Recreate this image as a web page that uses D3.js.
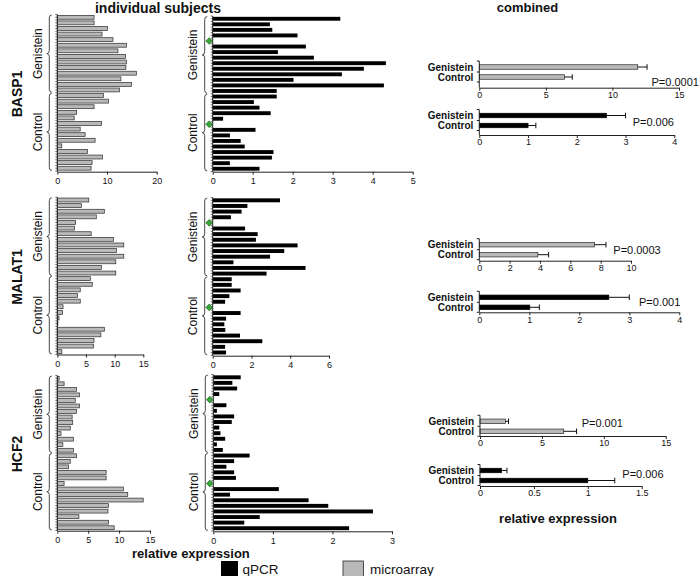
<!DOCTYPE html>
<html><head><meta charset="utf-8">
<script src="https://cdn.jsdelivr.net/npm/d3@7"></script>
<style>body{margin:0;background:#fff} svg{display:block;font-family:"Liberation Sans",Arial,sans-serif}</style>
</head><body><svg id="c" width="700" height="576"></svg>
<script>
// ---------- data ----------
const genes = ["BASP1", "MALAT1", "HCF2"];
const groups = ["Genistein", "Control"];
const groupSizes = [14, 14];

const basp1Micro = [7.4, 7.4, 10.1, 9.0, 11.2, 13.9, 12.2, 13.7, 13.9, 13.8, 15.9, 12.8, 14.9, 12.5,
                    9.3, 10.3, 7.4, 3.9, 3.4, 8.9, 4.6, 5.6, 7.6, 0.9, 6.1, 9.1, 7.0, 6.8];
const basp1QPCR = [3.19, 1.43, 1.49, 2.12, null, 2.33, 1.63, 2.53, 4.33, 3.78, 3.23, 2.02, 4.28, 1.6,
                   1.6, 1.03, 1.17, 1.45, 0.26, null, 1.07, 0.43, 0.7, 0.8, 1.52, 1.48, 0.43, 1.17];
const malat1Micro = [5.5, 4.2, 8.2, 6.8, 3.2, 3.0, 5.9, 9.8, 11.6, 10.3, 11.6, 10.2, 7.7, 10.2,
                     5.8, 6.1, 4.0, 3.5, 4.0, 1.0, 0.9, 0.3, 0.1, 8.2, 7.6, 6.4, 6.3, 0.8];
const malat1QPCR = [3.47, 1.79, 1.49, 0.94, null, 1.67, 2.32, 2.23, 4.38, 3.69, 2.96, 1.07, 4.79, 2.78,
                    0.98, 0.98, 1.44, 0.86, 0.64, null, 1.44, 0.69, 0.6, 0.65, 1.41, 2.56, 0.64, 0.69];
const hcf2Micro = [0.3, 1.1, 3.1, 3.6, 2.9, 3.6, 3.1, 2.4, 2.5, 2.1, 0.6, 2.6, 0.9, 2.6,
                   3.1, 2.1, 1.8, 7.9, 7.9, 1.1, 10.7, 11.4, 13.9, 8.3, 8.2, 3.5, 8.3, 9.2];
const hcf2QPCR = [0.46, 0.32, 0.40, 0.10, null, 0.22, 0.06, 0.35, 0.31, 0.10, 0.12, 0.20, 0.06, 0.16,
                  0.61, 0.35, 0.22, 0.35, 0.38, null, 1.10, 0.28, 1.60, 1.93, 2.68, 0.78, 0.52, 2.28];

const basp1MicroTicks = [0, 10, 20];
const malat1MicroTicks = [0, 5, 10, 15];
const hcf2MicroTicks = [0, 5, 10, 15];
const basp1QPCRTicks = [0, 1, 2, 3, 4, 5];
const malat1QPCRTicks = [0, 2, 4, 6];
const hcf2QPCRTicks = [0, 1, 2, 3];

// combined (Genistein, Control)
const basp1CombMicro = [11.9, 6.4],   basp1CombMicroErr = [0.7, 0.58];
const basp1CombQPCR = [2.61, 1.0],    basp1CombQPCRErr = [0.39, 0.16];
const malat1CombMicro = [7.6, 3.86],  malat1CombMicroErr = [0.75, 0.71];
const malat1CombQPCR = [2.59, 1.01],  malat1CombQPCRErr = [0.41, 0.19];
const hcf2CombMicro = [2.05, 6.76],   hcf2CombMicroErr = [0.25, 1.04];
const hcf2CombQPCR = [0.2, 1.0],      hcf2CombQPCRErr = [0.05, 0.25];

const basp1CombMicroTicks = [0, 5, 10, 15];
const basp1CombQPCRTicks = [0, 1, 2, 3, 4];
const malat1CombMicroTicks = [0, 2, 4, 6, 8, 10];
const malat1CombQPCRTicks = [0, 1, 2, 3, 4];
const hcf2CombMicroTicks = [0, 5, 10, 15];
const hcf2CombQPCRTicks = [0, 0.5, 1, 1.5];

const pValues = ["P=0.0001", "P=0.006", "P=0.0003", "P=0.001", "P=0.001", "P=0.006"];
const legendLabels = ["qPCR", "microarray"];

// ---------- styles ----------
const MICRO_FILL = "#b9b9b9", MICRO_STROKE = "#2a2a2a", QPCR_FILL = "#000";
const svg = d3.select("#c");

function drawIndiv(values, ticks, o) {
  const g = svg.append("g");
  const x = d3.scaleLinear().domain([0, ticks[ticks.length - 1]]).range([o.x0, o.x1]);
  const n = values.length;
  const y = d3.scaleBand().domain(d3.range(n)).range([o.y0, o.y1]).paddingInner(0.3).paddingOuter(0.15);
  const step = y.step();
  g.selectAll("rect.bar").data(values.map((v, i) => ({v, i})).filter(d => d.v != null))
    .join("rect")
    .attr("x", x(0)).attr("y", d => y(d.i))
    .attr("width", d => x(d.v) - x(0)).attr("height", y.bandwidth())
    .attr("fill", o.micro ? MICRO_FILL : QPCR_FILL)
    .attr("stroke", o.micro ? MICRO_STROKE : "none").attr("stroke-width", 0.7);
  const ax = g.append("g").attr("transform", `translate(0,${o.axisY})`)
    .call(d3.axisBottom(x).tickValues(ticks).tickSize(3).tickSizeOuter(0).tickPadding(3).tickFormat(d3.format("~g")));
  ax.select(".domain").attr("stroke", "#222");
  ax.selectAll("line").attr("stroke", "#222");
  ax.selectAll("text").attr("font-size", 9).attr("fill", "#111");
  g.append("line").attr("x1", x(0)).attr("x2", x(0)).attr("y1", o.y0).attr("y2", o.axisY).attr("stroke", "#222");
  g.selectAll("line.tk").data(d3.range(0, 2 * n + 1)).join("line")
    .attr("x1", x(0) - 2).attr("x2", x(0))
    .attr("y1", k => o.y0 + step * k / 2).attr("y2", k => o.y0 + step * k / 2)
    .attr("stroke", "#333").attr("stroke-width", 0.7);
  let start = 0;
  groups.forEach((name, gi) => {
    const size = groupSizes[gi];
    const ys = o.y0 + step * start + 0.5, ye = o.y0 + step * (start + size) - 0.5, ym = (ys + ye) / 2;
    const xs = x(0) - 8, xh = x(0) - 5.5, xt = x(0) - 10.5;
    const p = `M${xh},${ys} Q${xs},${ys} ${xs},${ys + 3} L${xs},${ym - 3} Q${xs},${ym} ${xt},${ym} Q${xs},${ym} ${xs},${ym + 3} L${xs},${ye - 3} Q${xs},${ye} ${xh},${ye}`;
    g.append("path").attr("d", p).attr("fill", "none").attr("stroke", "#333").attr("stroke-width", 0.9);
    g.append("text").attr("transform", `translate(${x(0) - 20},${ym}) rotate(-90)`)
      .attr("text-anchor", "middle").attr("dy", "0.35em").attr("font-size", 12).attr("fill", "#111").text(name);
    if (o.markers) {
      const mi = o.markers[gi];
      g.append("path").attr("d", d3.symbol(d3.symbolSquare, 22)())
        .attr("transform", `translate(${x(0) - 3.5},${y(mi) + y.bandwidth() / 2}) rotate(45)`)
        .attr("fill", "#3aa43a").attr("stroke", "#1c6b1c").attr("stroke-width", 0.7);
    }
    start += size;
  });
}

function drawComb(vals, errs, ticks, o) {
  const g = svg.append("g");
  const x = d3.scaleLinear().domain([0, ticks[ticks.length - 1]]).range([o.x0, o.x1]);
  const y = d3.scaleBand().domain(groups).range([o.top, o.top + 20]).paddingInner(0.55).paddingOuter(0.275);
  const data = groups.map((name, i) => ({name, v: vals[i], e: errs[i]}));
  g.selectAll("rect").data(data).join("rect")
    .attr("x", x(0)).attr("y", d => y(d.name)).attr("width", d => x(d.v) - x(0)).attr("height", y.bandwidth())
    .attr("fill", o.micro ? MICRO_FILL : QPCR_FILL).attr("stroke", o.micro ? MICRO_STROKE : "#000").attr("stroke-width", 0.7);
  data.forEach(d => {
    const cy = y(d.name) + y.bandwidth() / 2;
    g.append("line").attr("x1", x(d.v)).attr("x2", x(d.v + d.e)).attr("y1", cy).attr("y2", cy).attr("stroke", "#111");
    g.append("line").attr("x1", x(d.v + d.e)).attr("x2", x(d.v + d.e)).attr("y1", cy - 2.8).attr("y2", cy + 2.8).attr("stroke", "#111");
    g.append("text").attr("x", x(0) - 6).attr("y", cy).attr("dy", "0.35em").attr("text-anchor", "end")
      .attr("font-size", 10).attr("font-weight", "bold").attr("fill", "#111").text(d.name);
  });
  const ax = g.append("g").attr("transform", `translate(0,${o.axisY})`)
    .call(d3.axisBottom(x).tickValues(ticks).tickSize(3).tickSizeOuter(0).tickPadding(1).tickFormat(d3.format("~g")));
  ax.select(".domain").attr("stroke", "#222");
  ax.selectAll("line").attr("stroke", "#222");
  ax.selectAll("text").attr("font-size", 9).attr("fill", "#111");
  g.append("line").attr("x1", x(0)).attr("x2", x(0)).attr("y1", o.top - 1).attr("y2", o.axisY).attr("stroke", "#222");
  g.selectAll("line.tk").data([o.top - 1, o.top + 10, o.top + 20]).join("line")
    .attr("x1", x(0) - 2.5).attr("x2", x(0)).attr("y1", d => d).attr("y2", d => d).attr("stroke", "#222");
  g.append("text").attr("x", o.px).attr("y", o.py).attr("font-size", 11).attr("fill", "#111").text(o.p);
}

// ---------- individual panels ----------
drawIndiv(basp1Micro, basp1MicroTicks, {micro: true, x0: 57.3, x1: 156.7, y0: 14.5, y1: 171, axisY: 171.7});
drawIndiv(basp1QPCR, basp1QPCRTicks, {micro: false, x0: 212.7, x1: 412.7, y0: 16, y1: 171.5, axisY: 171.7, markers: [4, 19]});
drawIndiv(malat1Micro, malat1MicroTicks, {micro: true, x0: 57.3, x1: 143.3, y0: 197.2, y1: 354.5, axisY: 354.5});
drawIndiv(malat1QPCR, malat1QPCRTicks, {micro: false, x0: 212.7, x1: 329, y0: 197.5, y1: 355.3, axisY: 355.7, markers: [4, 19]});
drawIndiv(hcf2Micro, hcf2MicroTicks, {micro: true, x0: 57.3, x1: 150, y0: 375.5, y1: 530.5, axisY: 530.7});
drawIndiv(hcf2QPCR, hcf2QPCRTicks, {micro: false, x0: 213.3, x1: 392, y0: 374.5, y1: 531, axisY: 531.3, markers: [4, 19]});

// ---------- combined panels ----------
drawComb(basp1CombMicro, basp1CombMicroErr, basp1CombMicroTicks, {micro: true, x0: 479.3, x1: 679, top: 62, axisY: 87.7, p: pValues[0], px: 651.5, py: 85.5});
drawComb(basp1CombQPCR, basp1CombQPCRErr, basp1CombQPCRTicks, {micro: false, x0: 479.3, x1: 674.3, top: 110.5, axisY: 135, p: pValues[1], px: 632.7, py: 126});
drawComb(malat1CombMicro, malat1CombMicroErr, malat1CombMicroTicks, {micro: true, x0: 479.3, x1: 631, top: 239.7, axisY: 260.7, p: pValues[2], px: 613.3, py: 253.5});
drawComb(malat1CombQPCR, malat1CombQPCRErr, malat1CombQPCRTicks, {micro: false, x0: 479.3, x1: 679.3, top: 292.3, axisY: 312.3, p: pValues[3], px: 639, py: 306});
drawComb(hcf2CombMicro, hcf2CombMicroErr, hcf2CombMicroTicks, {micro: true, x0: 480, x1: 665.7, top: 416.3, axisY: 436, p: pValues[4], px: 581.7, py: 426.7});
drawComb(hcf2CombQPCR, hcf2CombQPCRErr, hcf2CombQPCRTicks, {micro: false, x0: 480, x1: 641.7, top: 465.5, axisY: 486, p: pValues[5], px: 622.3, py: 478.3});

// ---------- gene labels ----------
const geneY = [94, 277, 454];
genes.forEach((gname, i) => {
  svg.append("text").attr("transform", `translate(17,${geneY[i]}) rotate(-90)`)
    .attr("text-anchor", "middle").attr("dy", "0.35em").attr("font-size", 14).attr("font-weight", "bold")
    .attr("fill", "#111").text(gname);
});

// ---------- titles ----------
svg.append("text").attr("x", 158).attr("y", 12.5).attr("text-anchor", "middle").attr("font-size", 14)
  .attr("font-weight", "bold").attr("fill", "#111").text("individual subjects");
svg.append("text").attr("x", 527.5).attr("y", 12).attr("text-anchor", "middle").attr("font-size", 13)
  .attr("font-weight", "bold").attr("fill", "#111").text("combined");
svg.append("text").attr("x", 132).attr("y", 557.5).attr("font-size", 13)
  .attr("font-weight", "bold").attr("fill", "#111").text("relative expression");
svg.append("text").attr("x", 558).attr("y", 522.7).attr("text-anchor", "middle").attr("font-size", 13)
  .attr("font-weight", "bold").attr("fill", "#111").text("relative expression");

// ---------- legend ----------
const legX = [221, 343];
legendLabels.forEach((lab, i) => {
  svg.append("rect").attr("x", legX[i]).attr("y", 561).attr("width", i === 0 ? 17 : 20.5).attr("height", 16)
    .attr("fill", i === 0 ? QPCR_FILL : MICRO_FILL).attr("stroke", i === 0 ? "none" : MICRO_STROKE).attr("stroke-width", 0.8);
  svg.append("text").attr("x", legX[i] + (i === 0 ? 21.5 : 27)).attr("y", 573.5).attr("font-size", 13.5)
    .attr("fill", "#111").text(lab);
});
</script></body></html>
